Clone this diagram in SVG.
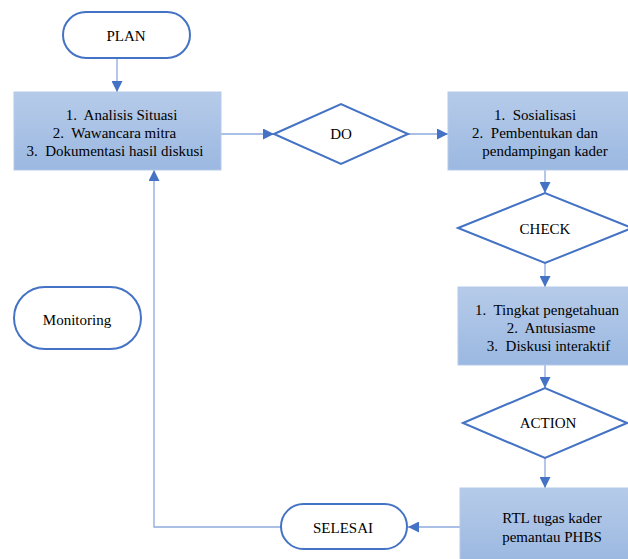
<svg xmlns="http://www.w3.org/2000/svg" width="628" height="559" viewBox="0 0 628 559">
<defs>
<linearGradient id="g" x1="0" y1="0" x2="0" y2="1">
<stop offset="0" stop-color="#b6cbe9"/>
<stop offset="1" stop-color="#9bb8e1"/>
</linearGradient>
<marker id="ah" viewBox="0 0 10 10" refX="10" refY="5" markerWidth="11" markerHeight="11" markerUnits="userSpaceOnUse" orient="auto">
<path d="M0,0 L10,5 L0,10 Z" fill="#4472c4"/>
</marker>
<style>
.pill{fill:#fff;stroke:#4472c4;stroke-width:2}
.dia{fill:#fff;stroke:#4472c4;stroke-width:2}
.box{fill:url(#g);stroke:#b4c9ea;stroke-width:1}
.t{font-family:'Liberation Serif','Times New Roman','DejaVu Serif',serif;font-size:15px;fill:#000;white-space:pre;text-anchor:middle}
.c{stroke:#8eaadc;stroke-width:1.3;fill:none;marker-end:url(#ah)}
</style>
</defs>
<rect width="628" height="559" fill="#fff"/>
<g id="connectors">
<path class="c" d="M117,59 V92"/>
<path class="c" d="M221,134 H274"/>
<path class="c" d="M408,134 H448"/>
<path class="c" d="M545,170 V193"/>
<path class="c" d="M545,263 V287"/>
<path class="c" d="M545,365 V388"/>
<path class="c" d="M545,458 V488"/>
<path class="c" d="M460,527 H408"/>
<path class="c" d="M281,527 H154 V170"/>
</g>
<g id="plan">
<rect class="pill" x="63" y="12" width="127" height="46" rx="23"/>
<text class="t" x="126" y="41">PLAN</text>
</g>
<g id="box1">
<rect class="box" x="14" y="92" width="207" height="78"/>
<text class="t" x="121.5" y="120" xml:space="preserve">1.  Analisis Situasi</text>
<text class="t" x="114.5" y="138" xml:space="preserve">2.  Wawancara mitra</text>
<text class="t" x="115" y="156" xml:space="preserve">3.  Dokumentasi hasil diskusi</text>
</g>
<g id="do">
<polygon class="dia" points="274,134 341,104 408,134 341,164"/>
<text class="t" x="341" y="139">DO</text>
</g>
<g id="box2">
<rect class="box" x="448" y="92" width="182" height="78"/>
<text class="t" x="535" y="120" xml:space="preserve">1.  Sosialisasi</text>
<text class="t" x="535" y="138" xml:space="preserve">2.  Pembentukan dan</text>
<text class="t" x="545" y="156">pendampingan kader</text>
</g>
<g id="check">
<polygon class="dia" points="458,228 545,193 632,228 545,263"/>
<text class="t" x="545" y="234">CHECK</text>
</g>
<g id="box3">
<rect class="box" x="458" y="287" width="172" height="78"/>
<text class="t" x="547" y="315" xml:space="preserve">1.  Tingkat pengetahuan</text>
<text class="t" x="551" y="333" xml:space="preserve">2.  Antusiasme</text>
<text class="t" x="548.5" y="351" xml:space="preserve">3.  Diskusi interaktif</text>
</g>
<g id="action">
<polygon class="dia" points="463,423 545,388 627,423 545,458"/>
<text class="t" x="548" y="428">ACTION</text>
</g>
<g id="box4">
<rect class="box" x="460" y="488" width="170" height="75"/>
<text class="t" x="552" y="523">RTL tugas kader</text>
<text class="t" x="552" y="542">pemantau PHBS</text>
</g>
<g id="selesai">
<rect class="pill" x="281" y="504" width="126" height="45" rx="22.5"/>
<text class="t" x="343" y="533">SELESAI</text>
</g>
<g id="monitoring">
<rect class="pill" x="14" y="287" width="127" height="62" rx="31"/>
<text class="t" x="77" y="325">Monitoring</text>
</g>
</svg>
